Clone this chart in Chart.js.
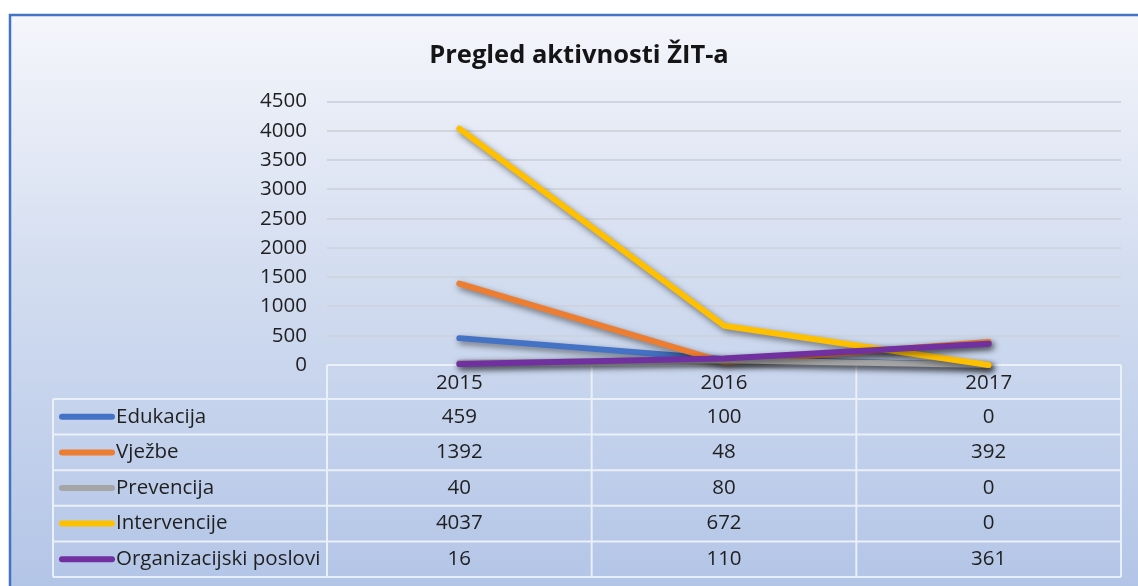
<!DOCTYPE html>
<html>
<head>
<meta charset="utf-8">
<script src="https://cdn.jsdelivr.net/npm/chart.js@4.4.0/dist/chart.umd.min.js"></script>
<style>
  html, body { margin: 0; padding: 0; background: #ffffff; }
  #wrap { width: 1138px; height: 586px; position: relative; }
</style>
</head>
<body>
<div id="wrap"><canvas id="aktivnostiChart"></canvas></div>
<script>
// podaci s grafikona
const years = ['2015', '2016', '2017'];
const seriesNames = ['Edukacija', 'Vježbe', 'Prevencija', 'Intervencije', 'Organizacijski poslovi'];
const edukacija = [459, 100, 0];
const vjezbe = [1392, 48, 392];
const prevencija = [40, 80, 0];
const intervencije = [4037, 672, 0];
const organizacijski = [16, 110, 361];
const seriesColors = ['#4472c4', '#ed7d31', '#a5a5a5', '#ffc000', '#7030a0'];
const yTicks = { min: 0, max: 4500, step: 500 };

const seriesValues = [edukacija, vjezbe, prevencija, intervencije, organizacijski];
const FONT = "'Open Sans', 'DejaVu Sans', sans-serif";
const TEXT_COLOR = '#1f1f1f';
const TEXT_SIZE = 20.5;

// pozadina s gradijentom i plavim rubom
const backgroundPlugin = {
    id: 'bgPanel',
    beforeDraw(chart) {
        const ctx = chart.ctx;
        const w = chart.width, h = chart.height;
        ctx.save();
        ctx.fillStyle = '#ffffff';
        ctx.fillRect(0, 0, w, h);
        const g = ctx.createLinearGradient(0, 15, 0, h);
        g.addColorStop(0, '#f5f6fb');
        g.addColorStop(0.45, '#d3ddf0');
        g.addColorStop(1, '#b3c5e7');
        ctx.fillStyle = g;
        ctx.fillRect(10, 15, w - 10, h - 15);
        ctx.strokeStyle = '#4472c4';
        ctx.lineWidth = 2.5;
        ctx.beginPath();
        ctx.moveTo(10, h);
        ctx.lineTo(10, 15);
        ctx.lineTo(w, 15);
        ctx.stroke();
        ctx.restore();
    }
};

// tablica podataka ispod grafikona
const dataTablePlugin = {
    id: 'dataTable',
    beforeDatasetsDraw(chart) {
        const ctx = chart.ctx;
        const area = chart.chartArea;
        const xScale = chart.scales.x;
        const headerH = 34;
        const rowH = 35.6;
        const tableLeft = 53;
        const top = area.bottom;
        const rowsTop = top + headerH;
        const bottom = rowsTop + rowH * seriesNames.length;
        const colW = (area.right - area.left) / years.length;

        ctx.save();
        ctx.strokeStyle = 'rgba(236, 241, 249, 0.95)';
        ctx.lineWidth = 2;
        ctx.beginPath();
        // horizontalne linije
        ctx.moveTo(area.left, top);
        ctx.lineTo(area.right, top);
        for (let i = 0; i <= seriesNames.length; i++) {
            const y = rowsTop + rowH * i;
            ctx.moveTo(tableLeft, y);
            ctx.lineTo(area.right, y);
        }
        // vertikalne linije
        ctx.moveTo(tableLeft, rowsTop);
        ctx.lineTo(tableLeft, bottom);
        for (let c = 0; c <= years.length; c++) {
            const x = area.left + colW * c;
            ctx.moveTo(x, top);
            ctx.lineTo(x, bottom);
        }
        ctx.stroke();

        ctx.font = `${TEXT_SIZE}px ${FONT}`;
        ctx.fillStyle = TEXT_COLOR;
        ctx.textBaseline = 'middle';
        ctx.textAlign = 'center';
        years.forEach((yr, c) => {
            ctx.fillText(yr, xScale.getPixelForValue(c), top + headerH / 2 + 1);
        });

        seriesNames.forEach((name, r) => {
            const cy = rowsTop + rowH * r + rowH / 2;
            // kljuc legende
            ctx.strokeStyle = seriesColors[r];
            ctx.lineWidth = 6;
            ctx.lineCap = 'round';
            ctx.beginPath();
            ctx.moveTo(62, cy);
            ctx.lineTo(112, cy);
            ctx.stroke();

            ctx.textAlign = 'left';
            ctx.fillText(name, 116, cy);

            ctx.textAlign = 'center';
            seriesValues[r].forEach((v, c) => {
                ctx.fillText(String(v), xScale.getPixelForValue(c), cy);
            });
        });
        ctx.restore();
    }
};

// sjena ispod linija
const lineShadowPlugin = {
    id: 'lineShadow',
    beforeDatasetDraw(chart) {
        const ctx = chart.ctx;
        ctx.save();
        ctx.shadowColor = 'rgba(0, 0, 0, 0.5)';
        ctx.shadowBlur = 6;
        ctx.shadowOffsetX = 2;
        ctx.shadowOffsetY = 3;
    },
    afterDatasetDraw(chart) {
        chart.ctx.restore();
    }
};

function renderAktivnostiChart() {
    const ctx = document.getElementById('aktivnostiChart');

    const datasets = seriesNames.map((name, i) => ({
        label: name,
        data: seriesValues[i],
        borderColor: seriesColors[i],
        backgroundColor: seriesColors[i],
        borderWidth: 6,
        borderCapStyle: 'round',
        borderJoinStyle: 'round',
        pointRadius: 0,
        pointHoverRadius: 0,
        tension: 0,
        clip: false,
        order: seriesNames.length - i
    }));

    new Chart(ctx, {
        type: 'line',
        data: { labels: years, datasets: datasets },
        options: {
            responsive: true,
            maintainAspectRatio: false,
            animation: false,
            events: [],
            layout: {
                padding: { top: 40, left: 37, right: 17, bottom: 221 }
            },
            plugins: {
                legend: { display: false },
                tooltip: { enabled: false },
                title: {
                    display: true,
                    text: 'Pregled aktivnosti ŽIT-a',
                    color: '#151515',
                    font: { family: FONT, size: 25.5, weight: 'bold', lineHeight: 1.2 },
                    padding: { top: 0, bottom: 31 }
                }
            },
            scales: {
                x: {
                    display: false,
                    offset: true
                },
                y: {
                    min: yTicks.min,
                    max: yTicks.max,
                    afterFit: function(scale) {
                        scale.width = 290;
                    },
                    ticks: {
                        stepSize: yTicks.step,
                        padding: 20,
                        color: TEXT_COLOR,
                        font: { family: FONT, size: TEXT_SIZE },
                        callback: function(value) {
                            return String(value);
                        }
                    },
                    grid: {
                        drawTicks: false,
                        lineWidth: 2,
                        color: function(c) {
                            return c.tick && c.tick.value === 0 ? 'rgba(0,0,0,0)' : 'rgba(205, 211, 222, 0.9)';
                        }
                    },
                    border: { display: false }
                }
            }
        },
        plugins: [backgroundPlugin, dataTablePlugin, lineShadowPlugin]
    });
}

renderAktivnostiChart();
</script>
</body>
</html>
